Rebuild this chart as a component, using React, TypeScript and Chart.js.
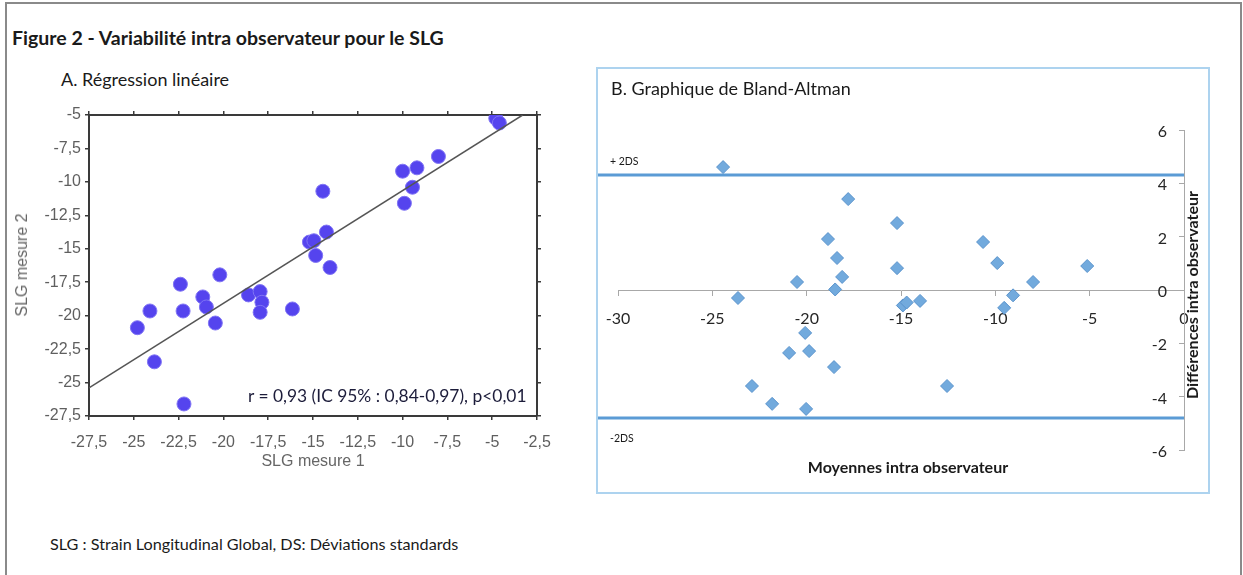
import React, { useEffect, useRef } from "react";
import { Chart, registerables } from "chart.js";

Chart.register(...registerables);

// ---------- A. Régression linéaire ----------
const SLG_MESURE_1 = [-4.8, -4.6, -8.0, -10.0, -9.2, -9.45, -9.9, -14.45, -14.25, -15.2, -14.95, -14.85, -14.05, -16.15, -18.6, -17.95, -17.85, -17.95, -20.2, -22.4, -21.15, -20.95, -22.25, -24.1, -24.8, -20.45, -23.85, -22.2];
const SLG_MESURE_2 = [-5.25, -5.6, -8.1, -9.2, -8.95, -10.4, -11.6, -10.7, -13.75, -14.5, -14.4, -15.5, -16.4, -19.5, -18.45, -18.2, -19.0, -19.75, -16.95, -17.65, -18.6, -19.35, -19.65, -19.65, -20.9, -20.55, -23.45, -26.6];
const REGRESSION_X = [-27.5, -3.3];
const REGRESSION_Y = [-25.4, -5.0];
const A_X_TICKS = [-27.5, -25, -22.5, -20, -17.5, -15, -12.5, -10, -7.5, -5, -2.5];
const A_Y_TICKS = [-27.5, -25, -22.5, -20, -17.5, -15, -12.5, -10, -7.5, -5];

// ---------- B. Graphique de Bland-Altman ----------
const BA_MOYENNES = [-24.43, -17.8, -15.21, -18.87, -18.39, -15.21, -18.12, -20.51, -18.49, -23.64, -14.9, -14.7, -10.65, -9.9, -5.13, -8.0, -9.06, -9.53, -13.99, -12.56, -20.08, -20.93, -19.87, -18.55, -22.9, -21.83, -20.03];
const BA_DIFFERENCES = [4.61, 3.41, 2.51, 1.91, 1.2, 0.82, 0.49, 0.3, 0.02, -0.3, -0.58, -0.47, 1.8, 1.01, 0.9, 0.3, -0.2, -0.67, -0.41, -3.6, -1.61, -2.36, -2.29, -2.89, -3.6, -4.27, -4.46];
const PLUS_2DS = 4.31;
const MINUS_2DS = -4.8;
const DS_LINE_X = [-31.1, 0];
const B_X_TICKS = [-30, -25, -20, -15, -10, -5, 0];
const B_Y_TICKS = [-6, -4, -2, 0, 2, 4, 6];

const LATO = "Lato, 'Open Sans', sans-serif";
const ARIAL = "'Liberation Sans', Arial, sans-serif";
const fmt = (v: any) => String(v).replace(".", ",");

function Txt(props: { x: number; base: number; size: number; text: string; bold?: boolean; family?: string; color?: string; center?: boolean }) {
  const fam = props.family || LATO;
  const k = fam === ARIAL ? 0.847 : 0.887;
  return (
    <div
      style={{
        position: "absolute",
        left: props.x,
        top: props.base - props.size * k,
        fontFamily: fam,
        fontSize: props.size,
        lineHeight: `${props.size}px`,
        fontWeight: props.bold ? 700 : 400,
        color: props.color || "#1a1a1a",
        whiteSpace: "nowrap",
        transform: props.center ? "translateX(-50%)" : undefined,
      }}
    >
      {props.text}
    </div>
  );
}

function VTxt(props: { cx: number; cy: number; size: number; text: string; bold?: boolean; family?: string; color?: string }) {
  const fam = props.family || LATO;
  return (
    <div
      style={{
        position: "absolute",
        left: props.cx,
        top: props.cy,
        fontFamily: fam,
        fontSize: props.size,
        lineHeight: `${props.size}px`,
        fontWeight: props.bold ? 700 : 400,
        color: props.color || "#1a1a1a",
        whiteSpace: "nowrap",
        transform: "translate(-50%, -50%) rotate(-90deg)",
      }}
    >
      {props.text}
    </div>
  );
}

export default function App() {
  const refA = useRef<HTMLCanvasElement>(null);
  const refB = useRef<HTMLCanvasElement>(null);

  useEffect(() => {
    const axisColA = "#3a3a3a";
    const gridA = { drawOnChartArea: false, drawTicks: true, tickLength: 4, color: axisColA, lineWidth: 1.5 };
    const borderA = { color: axisColA, width: 2 };
    const tickFontA = { family: ARIAL, size: 16 };

    const chartA = new Chart(refA.current!, {
      type: "scatter",
      data: {
        datasets: [
          {
            type: "scatter",
            data: SLG_MESURE_1.map((x, i) => ({ x, y: SLG_MESURE_2[i] })),
            pointRadius: 7,
            pointHoverRadius: 7,
            backgroundColor: "#5544ee",
            borderColor: "#8074f4",
            borderWidth: 1,
            order: 2,
          } as any,
          {
            type: "line",
            data: REGRESSION_X.map((x, i) => ({ x, y: REGRESSION_Y[i] })),
            borderColor: "#555555",
            borderWidth: 1.5,
            pointRadius: 0,
            fill: false,
            order: 1,
          } as any,
        ],
      },
      options: {
        responsive: false,
        animation: false,
        layout: { padding: 0 },
        plugins: { legend: { display: false }, tooltip: { enabled: false } },
        scales: {
          x: {
            type: "linear", position: "bottom", min: -27.5, max: -2.5,
            afterBuildTicks: (s: any) => { s.ticks = A_X_TICKS.map((v) => ({ value: v })); },
            afterFit: (s: any) => { s.height = 64; },
            grid: gridA, border: borderA,
            ticks: { autoSkip: false, maxRotation: 0, padding: 13, color: "#5f5f5f", font: tickFontA, callback: fmt },
          },
          y: {
            type: "linear", position: "left", min: -27.5, max: -5,
            afterBuildTicks: (s: any) => { s.ticks = A_Y_TICKS.map((v) => ({ value: v })); },
            afterFit: (s: any) => { s.width = 89; },
            grid: gridA, border: borderA,
            ticks: { autoSkip: false, padding: 4, color: "#5f5f5f", font: tickFontA, callback: fmt },
          },
          x2: {
            axis: "x", type: "linear", position: "top", min: -27.5, max: -2.5,
            afterBuildTicks: (s: any) => { s.ticks = A_X_TICKS.map((v) => ({ value: v })); },
            afterFit: (s: any) => { s.height = 15; },
            grid: gridA, border: borderA,
            ticks: { display: false },
          },
          y2: {
            axis: "y", type: "linear", position: "right", min: -27.5, max: -5,
            afterBuildTicks: (s: any) => { s.ticks = A_Y_TICKS.map((v) => ({ value: v })); },
            afterFit: (s: any) => { s.width = 33; },
            grid: gridA, border: borderA,
            ticks: { display: false },
          },
        } as any,
      },
    });

    const axisColB = "#a8a8a8";
    const tickFontB = { family: LATO, size: 16 };
    const chartB = new Chart(refB.current!, {
      type: "scatter",
      data: {
        datasets: [
          {
            type: "line",
            data: DS_LINE_X.map((x) => ({ x, y: PLUS_2DS })),
            borderColor: "#5b9bd5",
            borderWidth: 3,
            pointRadius: 0,
            fill: false,
            clip: false,
            order: 2,
          } as any,
          {
            type: "line",
            data: DS_LINE_X.map((x) => ({ x, y: MINUS_2DS })),
            borderColor: "#5b9bd5",
            borderWidth: 3,
            pointRadius: 0,
            fill: false,
            clip: false,
            order: 2,
          } as any,
          {
            type: "scatter",
            data: BA_MOYENNES.map((x, i) => ({ x, y: BA_DIFFERENCES[i] })),
            pointStyle: "rectRot",
            pointRadius: 6.5,
            pointHoverRadius: 6.5,
            backgroundColor: "#72aadd",
            borderColor: "#5a93cc",
            borderWidth: 1,
            order: 1,
          } as any,
        ],
      },
      options: {
        responsive: false,
        animation: false,
        layout: { padding: { left: 20, right: 0, top: 60, bottom: 40 } },
        plugins: { legend: { display: false }, tooltip: { enabled: false } },
        scales: {
          x: {
            type: "linear", position: { y: 0 }, min: -30, max: 0,
            afterBuildTicks: (s: any) => { s.ticks = B_X_TICKS.map((v) => ({ value: v })); },
            afterFit: (s: any) => { s.paddingLeft = 0; s.paddingRight = 0; s.paddingTop = 0; s.paddingBottom = 0; },
            grid: { drawOnChartArea: false, drawTicks: true, tickLength: 5, color: axisColB },
            border: { color: axisColB, width: 1 },
            ticks: { autoSkip: false, maxRotation: 0, padding: 14, color: "#262626", font: tickFontB },
          },
          y: {
            type: "linear", position: "right", min: -6, max: 6,
            afterBuildTicks: (s: any) => { s.ticks = B_Y_TICKS.map((v) => ({ value: v })); },
            afterFit: (s: any) => { s.width = 22; s.paddingTop = 0; s.paddingBottom = 0; },
            grid: { drawOnChartArea: false, drawTicks: true, tickLength: -5, color: axisColB },
            border: { color: axisColB, width: 1 },
            ticks: { autoSkip: false, mirror: true, padding: -17, labelOffset: 2, color: "#262626", font: tickFontB },
          },
        } as any,
      },
    });

    return () => {
      chartA.destroy();
      chartB.destroy();
    };
  }, []);

  return (
    <div style={{ position: "absolute", left: 0, top: 0, width: 1243, height: 575, background: "#ffffff", overflow: "hidden" }}>
      {/* outer frame */}
      <div style={{ position: "absolute", left: 5, top: 2, width: 1233, height: 571, border: "2px solid #8a8a8a" }} />
      {/* box B */}
      <div style={{ position: "absolute", left: 596, top: 67, width: 610, height: 423, border: "2px solid #add3ef" }} />

      <canvas ref={refA} width={570} height={380} style={{ position: "absolute", left: 0, top: 100 }} />
      <canvas ref={refB} width={608} height={420} style={{ position: "absolute", left: 598, top: 70 }} />

      <Txt x={12} base={45} size={19.5} bold text="Figure 2 - Variabilité intra observateur pour le SLG" />
      <Txt x={61} base={86} size={18} text="A. Régression linéaire" />
      <Txt x={611} base={95} size={18} text="B. Graphique de Bland-Altman" />
      <Txt x={50} base={550} size={16.2} text="SLG : Strain Longitudinal Global, DS: Déviations standards" />

      <Txt x={248} base={402} size={17.4} color="#1c1c3a" text="r = 0,93 (IC 95% : 0,84-0,97), p<0,01" />
      <Txt x={313} base={467} size={16} family={ARIAL} color="#666666" center text="SLG mesure 1" />
      <VTxt cx={22} cy={265} size={16} family={ARIAL} color="#666666" text="SLG mesure 2" />

      <Txt x={908} base={473} size={16} bold center text="Moyennes intra observateur" />
      <VTxt cx={1192} cy={295} size={16} bold text="Différences intra observateur" />
      <Txt x={610} base={165} size={10.5} text="+ 2DS" />
      <Txt x={610} base={442} size={10.5} text="-2DS" />
    </div>
  );
}
